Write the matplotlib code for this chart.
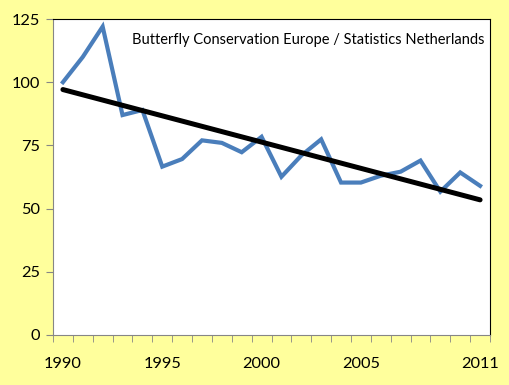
import matplotlib
matplotlib.use('Agg')
import matplotlib.pyplot as plt
import numpy as np

years = list(range(1990, 2012))
index = [100, 110, 122, 87, 89, 66.6, 69.6, 77, 76, 72.3, 78.4,
         62.6, 71, 77.4, 60.3, 60.3, 63, 64.6, 69, 56.7, 64.3, 59]
label_years = [1990, 1995, 2000, 2005, 2011]
y_ticks = [0, 25, 50, 75, 100, 125]
source = 'Butterfly Conservation Europe / Statistics Netherlands'

plt.rcParams['font.family'] = ['Lato', 'DejaVu Sans']

bg = '#ffff9c'
fig = plt.figure(figsize=(5.09, 3.85), dpi=100, facecolor=bg)
ax = fig.add_axes([0.1041, 0.1299, 0.8586, 0.8207])

# category positions (centre of each slot)
x = np.arange(len(years)) + 0.5
ax.plot(x, index, color='#4a7ebb', linewidth=3.0, solid_joinstyle='miter', zorder=2)

# linear trend
slope, intercept = np.polyfit(x, index, 1)
ax.plot([x[0], x[-1]], [slope * x[0] + intercept, slope * x[-1] + intercept],
        color='black', linewidth=3.6, solid_capstyle='round', zorder=3)

ax.set_xlim(0, len(years))
ax.set_ylim(0, 125)
ax.set_yticks(y_ticks)
ax.set_yticklabels([str(v) for v in y_ticks], fontsize=11.8)
ax.set_xticks([years.index(y) + 0.5 for y in label_years])
ax.set_xticklabels([str(y) for y in label_years], fontsize=11.8)
ax.set_xticks(np.arange(len(years) + 1), minor=True)
ax.tick_params(axis='x', which='major', length=0, pad=16)
ax.tick_params(axis='x', which='minor', length=5, direction='out', color='#868686')
ax.tick_params(axis='y', length=5, direction='out', color='#868686', pad=4)

for side in ['left', 'bottom']:
    ax.spines[side].set_color('#868686')
for side in ['top', 'right']:
    ax.spines[side].set_color('black')

ax.text(0.987, 0.935, source, transform=ax.transAxes, ha='right', va='center',
        fontsize=10.5)

fig.savefig('out.png', dpi=100, facecolor=bg)
